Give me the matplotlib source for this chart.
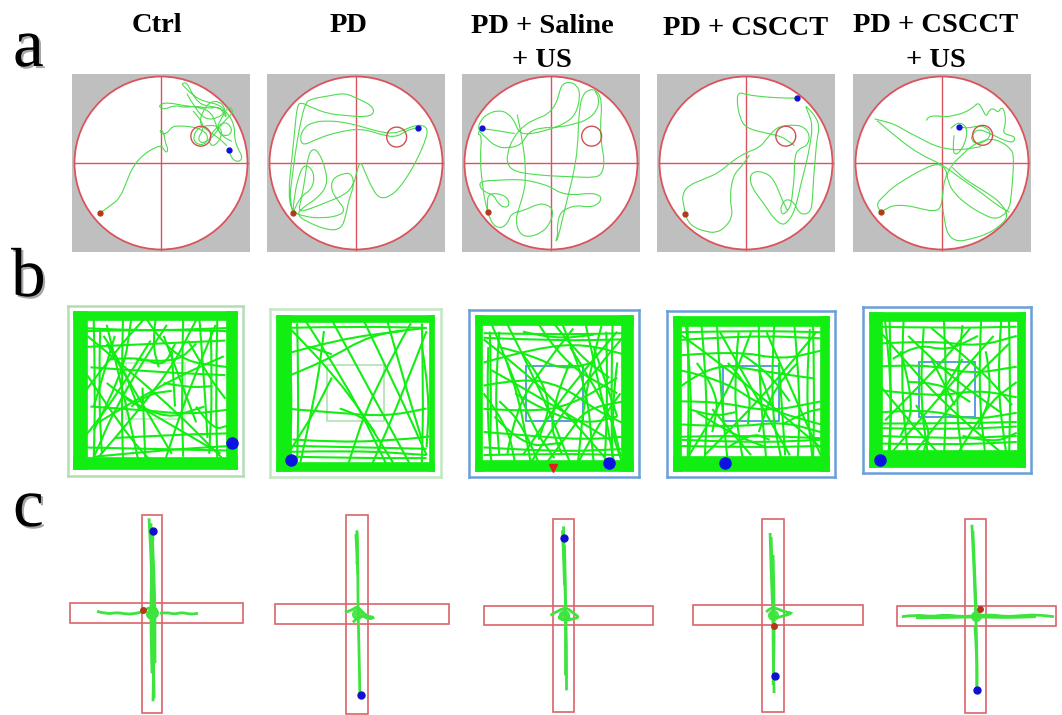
import numpy as np
import matplotlib
matplotlib.use("Agg")
import matplotlib.pyplot as plt
from matplotlib.path import Path
from matplotlib.patches import PathPatch, Circle, Rectangle
import matplotlib.patheffects as pe

W, H = 1062, 715

# ---------------- data ----------------
titles = ["Ctrl", "PD", "PD + Saline\n+ US", "PD + CSCCT", "PD + CSCCT\n+ US"]
panel_letters = ["a", "b", "c"]

# Row a: water maze swim paths, % of pool radius (x right, y up)
mwm_paths = [
    [[(-71,-58),(-59,-50),(-47,-40),(-40,-22),(-32,-3),(-20,10),(-7,18),(1,20),(4,14),(7,12),(8,17),(5,23),
      (3,37),(-2,38),(1,33),(8,35),(12,42),(22,43),(35,42),(47,39),(55,31),(51,21),(40,22),(37,31),(43,41),
      (57,44),(67,42),(71,35),(66,23),(58,19),(55,28),(62,39),(74,49),(83,39),(78,31),(68,33),(62,49),(58,58),
      (47,64),(28,66),(8,70),(-1,68),(-2,64),(5,62),(16,67),(28,64),(40,66),(55,63),(66,65),(72,59),(76,51),
      (74,62),(65,68),(55,70),(43,74),(33,82),(26,89),(24,92),(30,93),(35,82),(43,70),(52,66),(62,65),(70,62),
      (78,57),(85,43),(85,28),(89,16),(94,8),(92,2),(85,2),(80,9),(79,15)],
     [(37,60),(45,52),(50,40),(42,28),(48,22),(60,30),(70,45),(80,55),(84,60),(78,66),(70,52),(64,40),(72,30),(82,25)],
     [(30,80),(40,62),(52,50),(66,52),(75,60),(70,70),(58,72),(48,60),(44,45),(56,36),(68,28),(76,20)]],
    [[(-73,-58),(-77,-41),(-74,-18),(-70,13),(-65,43),(-59,68),(-53,74),(-29,78),(-13,81),(3,74),(19,66),(21,57),
      (11,53),(-13,55),(-33,57),(-53,65),(-63,70),(-68,67),(-71,36),(-75,-3),(-78,-33),(-75,-55),(-61,-62),
      (-37,-64),(-17,-60),(-13,-53),(-23,-41),(-29,-30),(-27,-18),(-15,-12),(-5,-12),(-2,-26),(-8,-41),(-12,-62),
      (-17,-76),(-31,-78),(-53,-70),(-69,-60),(-61,-51),(-45,-41),(-33,-26),(-35,-7),(-43,13),(-51,17),(-56,5),
      (-59,-18),(-63,-41),(-67,-57),(-53,-53),(-33,-45),(-13,-37),(-3,-26),(1,-10),(5,3),(11,-12),(19,-30),
      (27,-41),(39,-39),(51,-28),(63,-10),(73,9),(81,28),(83,39),(77,44),(67,43),(55,38),(43,34),(27,36),(7,42),
      (-13,47),(-33,49),(-51,47),(-61,40),(-65,28),(-61,20),(-45,28),(-21,36),(7,40),(31,32),(47,30),(59,38),(72,41)],
     [(-73,-58),(-66,-40),(-50,-30),(-48,-10),(-60,0),(-68,-20),(-72,-45),(-73,-58)]],
    [[(-73,-57),(-74,-45),(-72,-36),(-61,-35),(-50,-40),(-48,-49),(-54,-52),(-62,-46),(-66,-37),(-76,-34),
      (-83,-27),(-81,-21),(-65,-20),(-42,-19),(-27,-20),(-11,-24),(0,-28),(11,-35),(27,-37),(42,-35),(54,-36),
      (59,-41),(53,-49),(42,-51),(31,-49),(19,-52),(10,-58),(7,-74),(8,-83),(5,-92),(8,-87),(12,-70),(19,-41),
      (26,-13),(31,18),(32,56),(36,79),(46,86),(55,82),(59,68),(57,45),(58,22),(62,3),(59,-13),(50,-17),(27,-16),
      (0,-15),(-23,-13),(-41,-10),(-50,-3),(-51,10),(-44,29),(-31,44),(-15,52),(-4,56),(6,68),(10,83),(13,91),
      (21,94),(30,90),(34,79),(29,56),(15,45),(-4,38),(-26,33),(-37,35),(-42,48),(-50,58),(-61,61),(-73,57),
      (-81,50),(-85,39),(-76,30),(-64,19),(-50,17),(-34,21),(-26,36),(-11,41),(8,41),(27,45),(42,50),(53,60),
      (56,74),(51,83)],
     [(-39,56),(-31,18),(-29,-20),(-32,-36),(-37,-52),(-41,-66),(-37,-81),(-27,-86),(-11,-81),(-1,-70),(3,-55),
      (-4,-48),(-15,-47),(-31,-55),(-46,-58),(-50,-70),(-59,-76),(-69,-70),(-76,-47),(-80,-20),(-82,6),(-80,32),
      (-85,33),(-82,38),(-80,40),(-60,37),(-42,34)]],
    [[(-70,-59),(-72,-49),(-74,-37),(-67,-26),(-47,-18),(-31,-11),(-15,3),(0,12),(16,18),(24,28),(33,39),(42,43),
      (56,44),(67,42),(74,32),(71,20),(60,16),(56,6),(56,-14),(54,-33),(52,-49),(47,-57),(41,-60),(40,-49),
      (47,-41),(56,-46),(60,-56),(67,-60),(75,-56),(77,-41),(78,-18),(80,5),(82,28),(85,41),(81,53),(73,62),
      (68,67),(73,56),(77,43),(74,20),(69,-3),(63,-26),(59,-45),(54,-60),(48,-68),(42,-72),(32,-64),(24,-52),
      (16,-41),(8,-30),(4,-18),(8,-10),(20,-10),(32,-18),(41,-41),(48,-55)],
     [(4,9),(-4,-3),(-15,-14),(-19,-41),(-15,-60),(-23,-74),(-35,-81),(-47,-79),(-59,-75),(-67,-68),(-70,-59)],
     [(56,20),(46,28),(36,32),(16,36),(0,41),(-7,51),(-11,74),(-8,82),(0,79),(24,76),(48,75),(59,75)]],
    [[(-71,-57),(-63,-52),(-56,-49),(-40,-49),(-24,-53),(-9,-56),(-1,-52),(1,-34),(3,-18),(12,-1),(22,8),(33,19),
      (45,25),(57,28),(68,25),(80,16),(83,8),(82,-15),(80,-38),(78,-52),(71,-61),(60,-65),(45,-58),(30,-49),
      (14,-35),(7,-22),(5,-7),(-5,0),(-24,-8),(-43,-19),(-58,-29),(-67,-38),(-76,-47),(-71,-57)],
     [(-78,51),(-70,49),(-55,45),(-40,36),(-24,28),(-9,20),(7,16),(22,15),(45,19)],
     [(-75,49),(-51,28),(-24,9),(-1,-1),(22,-18),(45,-34),(64,-49),(78,-57)],
     [(1,-53),(3,-68),(7,-84),(18,-91),(33,-88),(53,-82),(68,-72),(77,-61),(68,-46),(53,-35),(33,-23),(22,-15),
      (12,-5)],
     [(-18,49),(-17,53),(-7,55),(3,53),(14,55),(26,58),(37,65),(42,70),(47,62),(51,53),(55,62),(60,63),(65,58),
      (68,64),(72,62),(74,46),(70,35),(78,32),(85,30),(82,23),(70,27),(60,32),(53,35),(44,39),(37,36),(33,28),
      (40,21),(52,26),(57,35),(50,42),(41,43),(30,40),(20,42)],
     [(14,32),(12,16),(16,8),(26,20),(30,40),(20,48),(10,40)]],
]
mwm_start = [(-71,-58), (-73,-58), (-73,-57), (-70,-59), (-71,-57)]
mwm_end = [(79,15), (72,41), (-80,40), (59,75), (20,42)]
mwm_target = [(46,31), (47,30), (47,31), (46,31), (47,32)]

# Row b: open-field tracks, fraction of arena (x right, y down)
of_strokes = [
    [[(0.30,0.03),(0.29,0.50),(0.30,0.95)],[(0.42,0.48),(0.44,1.0)],[(0.08,0.15),(0.55,0.55),(0.93,0.95)],
     [(0.15,0.92),(0.55,0.45),(0.75,0.05)],[(0.07,0.50),(0.25,0.25),(0.45,0.02)],[(0.08,0.22),(0.50,0.20),(0.93,0.18)],
     [(0.10,0.35),(0.50,0.38),(0.93,0.40)],[(0.55,0.45),(0.70,0.48),(0.85,0.47)],[(0.67,0.05),(0.66,0.50),(0.67,0.92)],
     [(0.77,0.04),(0.80,0.45),(0.82,0.80)],[(0.47,0.18),(0.25,0.55),(0.02,0.85)],[(0.25,0.80),(0.60,0.78),(0.97,0.77)],
     [(0.15,0.70),(0.55,0.45),(0.92,0.28)],[(0.32,0.55),(0.65,0.75),(0.90,0.90)],[(0.12,0.92),(0.50,0.88),(0.97,0.85)],
     [(0.87,0.08),(0.70,0.50),(0.55,0.97)],[(0.20,0.08),(0.30,0.50),(0.40,0.97)],[(0.57,0.08),(0.30,0.50),(0.10,0.97)],
     [(0.70,0.18),(0.82,0.40),(0.93,0.55)],[(0.08,0.40),(0.30,0.75),(0.50,0.98)],
     [(0.10,0.60),(0.40,0.62),(0.70,0.65),(0.95,0.62)],[(0.45,0.05),(0.60,0.30),(0.95,0.35)],
     [(0.05,0.10),(0.40,0.12),(0.95,0.10)],[(0.12,0.75),(0.30,0.40),(0.35,0.05)],
     [(0.12,0.05),(0.13,0.50),(0.12,0.95)],[(0.16,0.10),(0.15,0.50),(0.17,0.90)],[(0.05,0.12),(0.50,0.11),(0.95,0.12)],
     [(0.05,0.86),(0.50,0.87),(0.95,0.88)],[(0.88,0.05),(0.87,0.50),(0.88,0.95)],[(0.84,0.10),(0.85,0.50),(0.83,0.90)],
     [(0.20,0.20),(0.60,0.90)],[(0.55,0.15),(0.75,0.70)],[(0.25,0.15),(0.12,0.60)],
     [(0.38,0.30),(0.62,0.33),(0.75,0.20)],[(0.60,0.25),(0.62,0.60)],[(0.20,0.45),(0.50,0.70),(0.80,0.60)],
     [(0.22,0.30),(0.40,0.28),(0.55,0.35),(0.62,0.20)],[(0.35,0.60),(0.45,0.52),(0.60,0.50)],
     [(0.18,0.15),(0.28,0.30),(0.40,0.62)],[(0.75,0.60),(0.85,0.75),(0.95,0.72)],[(0.50,0.05),(0.48,0.20),(0.52,0.35)]],
    [[(0.05,0.05),(0.40,0.40),(0.75,0.97)],[(0.18,0.03),(0.45,0.45),(0.70,0.97)],[(0.35,0.03),(0.60,0.50),(0.85,0.97)],
     [(0.55,0.03),(0.75,0.45),(0.95,0.90)],[(0.70,0.03),(0.80,0.40),(0.92,0.80)],[(0.85,0.05),(0.60,0.50),(0.45,0.97)],
     [(0.05,0.60),(0.40,0.63),(0.70,0.65),(0.95,0.60)],[(0.05,0.40),(0.30,0.30),(0.60,0.12),(0.95,0.08)],
     [(0.05,0.25),(0.40,0.15),(0.80,0.10)],[(0.10,0.80),(0.40,0.82),(0.80,0.80),(0.97,0.78)],
     [(0.05,0.88),(0.50,0.87),(0.95,0.90)],[(0.95,0.10),(0.80,0.50),(0.60,0.97)],[(0.02,0.97),(0.20,0.70),(0.35,0.40)],
     [(0.92,0.20),(0.97,0.50),(0.95,0.85)],[(0.08,0.10),(0.10,0.50),(0.08,0.95)],[(0.15,0.95),(0.25,0.50),(0.30,0.10)],
     [(0.13,0.05),(0.14,0.50),(0.13,0.95)],[(0.05,0.08),(0.50,0.07),(0.95,0.08)],[(0.05,0.91),(0.50,0.92),(0.95,0.92)],
     [(0.05,0.84),(0.50,0.85),(0.95,0.86)],[(0.92,0.05),(0.93,0.50),(0.92,0.95)],
     [(0.40,0.60),(0.55,0.65),(0.62,0.75)],[(0.20,0.20),(0.35,0.25)]],
    [[(0.05,0.15),(0.30,0.35),(0.55,0.60),(0.85,0.95)],[(0.10,0.05),(0.25,0.40),(0.35,0.95)],
     [(0.20,0.05),(0.40,0.45),(0.60,0.95)],[(0.40,0.05),(0.55,0.30),(0.90,0.50)],[(0.55,0.05),(0.70,0.40),(0.75,0.95)],
     [(0.70,0.06),(0.80,0.50),(0.88,0.95)],[(0.80,0.06),(0.70,0.45),(0.65,0.95)],[(0.90,0.10),(0.60,0.45),(0.30,0.90)],
     [(0.05,0.45),(0.30,0.40),(0.55,0.45),(0.75,0.60),(0.95,0.70)],[(0.05,0.60),(0.35,0.62),(0.60,0.58),(0.90,0.40)],
     [(0.05,0.75),(0.40,0.78),(0.70,0.80),(0.95,0.78)],[(0.05,0.85),(0.50,0.88),(0.95,0.86)],
     [(0.05,0.30),(0.40,0.20),(0.70,0.18),(0.95,0.25)],[(0.15,0.10),(0.12,0.50),(0.15,0.90)],
     [(0.08,0.20),(0.07,0.60),(0.10,0.95)],[(0.30,0.10),(0.50,0.15),(0.75,0.12)],
     [(0.35,0.95),(0.50,0.70),(0.80,0.30),(0.95,0.12)],[(0.60,0.20),(0.85,0.60),(0.92,0.90)],
     [(0.20,0.90),(0.25,0.60),(0.45,0.30),(0.62,0.08)],[(0.90,0.30),(0.85,0.70),(0.93,0.95)],
     [(0.45,0.95),(0.60,0.75),(0.70,0.60),(0.95,0.55)],[(0.10,0.35),(0.45,0.55),(0.85,0.80)],
     [(0.05,0.50),(0.20,0.70),(0.25,0.95)],
     [(0.05,0.11),(0.50,0.12),(0.95,0.11)],[(0.05,0.14),(0.50,0.16),(0.95,0.15)],[(0.87,0.05),(0.86,0.50),(0.87,0.95)],
     [(0.83,0.10),(0.84,0.50),(0.82,0.95)],[(0.05,0.90),(0.50,0.89),(0.95,0.90)],[(0.09,0.10),(0.10,0.50),(0.09,0.90)],
     [(0.30,0.25),(0.50,0.50),(0.40,0.80)],[(0.60,0.30),(0.45,0.65),(0.55,0.90)],[(0.75,0.20),(0.90,0.65)],
     [(0.20,0.30),(0.35,0.70),(0.50,0.92)],
     [(0.15,0.20),(0.35,0.25),(0.55,0.35),(0.75,0.30)],[(0.25,0.50),(0.45,0.62),(0.70,0.70),(0.90,0.65)],
     [(0.40,0.95),(0.30,0.70),(0.15,0.55)],[(0.65,0.95),(0.78,0.70),(0.92,0.50)],[(0.50,0.05),(0.65,0.25),(0.85,0.40)],
     [(0.12,0.65),(0.30,0.85),(0.55,0.82)]],
    [[(0.05,0.12),(0.30,0.30),(0.60,0.55),(0.95,0.85)],[(0.08,0.05),(0.12,0.50),(0.10,0.95)],
     [(0.18,0.05),(0.22,0.50),(0.20,0.95)],[(0.28,0.05),(0.30,0.45),(0.35,0.95)],[(0.42,0.10),(0.38,0.50),(0.45,0.95)],
     [(0.55,0.05),(0.55,0.40),(0.60,0.95)],[(0.65,0.05),(0.62,0.55),(0.70,0.95)],[(0.78,0.06),(0.82,0.50),(0.80,0.95)],
     [(0.88,0.08),(0.85,0.50),(0.90,0.95)],[(0.05,0.25),(0.40,0.22),(0.70,0.28),(0.95,0.22)],
     [(0.05,0.35),(0.30,0.40),(0.60,0.60),(0.95,0.70)],[(0.05,0.55),(0.30,0.55),(0.60,0.62),(0.95,0.55)],
     [(0.05,0.70),(0.40,0.72),(0.70,0.68),(0.95,0.75)],[(0.05,0.80),(0.50,0.82),(0.95,0.80)],
     [(0.05,0.15),(0.50,0.12),(0.95,0.14)],[(0.20,0.90),(0.50,0.60),(0.80,0.25),(0.92,0.10)],
     [(0.10,0.90),(0.35,0.50),(0.50,0.10)],[(0.60,0.10),(0.75,0.45),(0.95,0.90)],[(0.30,0.10),(0.55,0.55),(0.75,0.90)],
     [(0.05,0.45),(0.25,0.30),(0.55,0.35),(0.90,0.40)],[(0.15,0.62),(0.35,0.75),(0.60,0.85)],
     [(0.68,0.30),(0.70,0.60),(0.72,0.90)],
     [(0.05,0.10),(0.50,0.09),(0.95,0.10)],[(0.05,0.84),(0.50,0.85),(0.95,0.84)],[(0.05,0.78),(0.50,0.77),(0.95,0.79)],
     [(0.09,0.05),(0.10,0.50),(0.09,0.95)],[(0.90,0.05),(0.91,0.50),(0.90,0.95)],[(0.35,0.30),(0.50,0.45),(0.48,0.70)],
     [(0.55,0.35),(0.65,0.62)],[(0.25,0.60),(0.50,0.90)],
     [(0.15,0.30),(0.30,0.50),(0.25,0.75)],[(0.45,0.25),(0.60,0.35),(0.75,0.55)],[(0.80,0.30),(0.65,0.45),(0.55,0.75)],
     [(0.10,0.60),(0.25,0.65),(0.40,0.62)],[(0.70,0.70),(0.85,0.62),(0.95,0.60)],[(0.35,0.85),(0.50,0.75),(0.62,0.80)]],
    [[(0.05,0.10),(0.30,0.40),(0.60,0.70),(0.90,0.95)],[(0.10,0.05),(0.15,0.50),(0.12,0.95)],
     [(0.22,0.05),(0.20,0.45),(0.25,0.95)],[(0.35,0.10),(0.32,0.50),(0.38,0.95)],[(0.48,0.05),(0.50,0.45),(0.48,0.95)],
     [(0.60,0.08),(0.55,0.55),(0.60,0.95)],[(0.72,0.05),(0.70,0.50),(0.75,0.95)],[(0.85,0.05),(0.82,0.45),(0.88,0.90)],
     [(0.05,0.20),(0.40,0.18),(0.70,0.22),(0.95,0.15)],[(0.05,0.35),(0.35,0.33),(0.65,0.40),(0.95,0.35)],
     [(0.05,0.50),(0.40,0.55),(0.70,0.50),(0.95,0.55)],[(0.05,0.65),(0.35,0.62),(0.65,0.70),(0.95,0.65)],
     [(0.05,0.75),(0.50,0.76),(0.95,0.74)],[(0.05,0.80),(0.50,0.82),(0.95,0.80)],[(0.05,0.85),(0.50,0.86),(0.95,0.84)],
     [(0.15,0.90),(0.45,0.55),(0.80,0.15)],[(0.10,0.70),(0.40,0.40),(0.65,0.10)],[(0.30,0.90),(0.60,0.50),(0.90,0.20)],
     [(0.55,0.95),(0.75,0.60),(0.95,0.45)],[(0.25,0.15),(0.50,0.40),(0.85,0.65)],[(0.40,0.10),(0.70,0.35),(0.92,0.60)],
     [(0.05,0.45),(0.25,0.70),(0.45,0.92)],
     [(0.13,0.05),(0.14,0.50),(0.13,0.95)],[(0.05,0.09),(0.50,0.10),(0.95,0.09)],[(0.90,0.05),(0.91,0.50),(0.90,0.95)],
     [(0.05,0.72),(0.50,0.72),(0.95,0.71)],[(0.40,0.30),(0.55,0.60)],[(0.60,0.30),(0.45,0.55)],
     [(0.20,0.25),(0.30,0.60),(0.20,0.80)],
     [(0.15,0.30),(0.30,0.20),(0.50,0.25),(0.70,0.15)],[(0.25,0.45),(0.45,0.45),(0.65,0.58)],
     [(0.75,0.25),(0.80,0.50),(0.70,0.75)],[(0.30,0.60),(0.40,0.75),(0.35,0.90)],[(0.60,0.80),(0.80,0.85),(0.95,0.78)]],
]
# wall-hugging band thickness (left, top, right, bottom), fraction of arena
of_wall = [(0.08,0.05,0.06,0.07), (0.09,0.04,0.03,0.05), (0.04,0.06,0.07,0.06),
           (0.05,0.06,0.05,0.09), (0.08,0.05,0.04,0.10)]
of_end = [(0.97,0.83), (0.09,0.93), (0.85,0.95), (0.33,0.95), (0.07,0.96)]

# Row c: elevated plus-maze tracks, px offsets from maze centre (x right, y down)
epm_strokes = [
    [[(-3,-95),(-1,-60),(0,-20),(1,0),(2,40),(1,88)], [(-1,-90),(0,-50),(1,-10),(0,30),(2,70),(2,85)],
     [(0,-85),(2,-40),(3,0),(3,50)], [(1,-80),(-1,-30),(-1,20),(0,60)],
     [(-55,-2),(-45,1),(-35,-1),(-25,1),(-15,0),(-8,-2)], [(8,0),(15,-1),(22,1),(30,-1),(38,1),(46,0)],
     [(-6,-4),(0,-7),(6,-3),(5,4),(-2,6),(-6,0),(0,-2),(4,2)]],
    [[(0,-84),(1,-50),(1,-10),(2,30),(3,81)], [(-1,-80),(0,-60),(1,-40)], [(0,-82),(1,-65),(0,-50)],
     [(-12,-2),(-5,-4),(0,-8),(5,-3),(10,2),(18,3),(12,5),(5,1),(0,4),(-4,8)]],
    [[(0,-89),(1,-50),(2,-10),(3,30),(3,75)], [(-1,-85),(0,-60),(1,-30)], [(1,-70),(2,-30),(2,20),(2,60)],
     [(-13,0),(-5,-5),(3,-8),(10,-2),(16,2),(8,4),(0,5),(-6,2),(2,-3),(6,3)]],
    [[(-3,-82),(-2,-40),(0,0),(0,40),(1,78)], [(-2,-78),(-1,-50),(0,-20)], [(0,-60),(1,-20),(1,30),(0,70)],
     [(-7,-3),(-2,-8),(5,-6),(12,-3),(20,-2),(10,1),(3,3),(-4,1),(2,-4)]],
    [[(-4,-91),(-2,-50),(-1,-20),(0,0),(1,40),(1,74)], [(-3,-85),(-1,-40),(0,-10)], [(-1,10),(1,40),(1,70)],
     [(-74,1),(-60,-1),(-45,1),(-30,-1),(-15,1),(0,0),(15,-1),(30,1),(45,0),(60,-1),(78,1)],
     [(-60,2),(-30,2),(0,1),(30,2),(60,1)]],
]
epm_start = [(-9,-3), None, None, (1,11), (4,-7)]
epm_end = [(1,-82), (4,81), (0,-77), (2,61), (1,74)]

# ---------------- layout (pixels) ----------------
fig = plt.figure(figsize=(W/100, H/100), dpi=100)
fig.patch.set_facecolor("white")

def px_axes(x0, y0, x1, y1):
    ax = fig.add_axes([x0/W, 1 - y1/H, (x1-x0)/W, (y1-y0)/H])
    ax.set_xticks([]); ax.set_yticks([])
    return ax

def smooth(pts):
    p = np.asarray(pts, float)
    if len(p) < 3:
        return Path(p)
    verts = [p[0]]; codes = [Path.MOVETO]
    for i in range(1, len(p)-1):
        verts += [p[i], (p[i]+p[i+1])/2]
        codes += [Path.CURVE3, Path.CURVE3]
    verts.append(p[-1]); codes.append(Path.LINETO)
    return Path(verts, codes)

serif = ["Liberation Serif", "DejaVu Serif"]

# titles
title_pos = [(157, [32]), (349, [32]), (542, [33, 67]), (746, [35]), (936, [32, 67])]
for t, (cx, bases) in zip(titles, title_pos):
    for line, b in zip(t.split("\n"), bases):
        fig.text(cx/W, 1 - b/H, line, ha="center", va="baseline", fontsize=20.5,
                 fontweight="bold", family=serif)

# panel letters
for lab, (x, b) in zip(panel_letters, [(13, 66), (11, 296), (13, 526)]):
    fig.text(x/W, 1 - b/H, lab, ha="left", va="baseline", fontsize=50, family=serif,
             path_effects=[pe.SimplePatchShadow(offset=(1.5, -1.5), alpha=0.35), pe.Normal()])

# ---- row a ----
RED = "#d9545c"
a_x0 = [72, 267, 462, 657, 853]
lim = 89/86.5
for i in range(5):
    ax = px_axes(a_x0[i], 74, a_x0[i] + 178, 252)
    ax.set_facecolor("#bfbfbf")
    for s in ax.spines.values():
        s.set_visible(False)
    ax.set_xlim(-lim, lim); ax.set_ylim(-lim, lim)
    ax.add_patch(Circle((0, 0), 1.0, facecolor="white", edgecolor=RED, lw=1.3, zorder=1))
    ax.plot([-1, 1], [0, 0], color=RED, lw=1.0, zorder=2)
    ax.plot([0, 0], [-1, 1], color=RED, lw=1.0, zorder=2)
    tx, ty = mwm_target[i]
    ax.add_patch(Circle((tx/100, ty/100), 0.115, fill=False, edgecolor="#d05050", lw=1.0, zorder=4))
    for seg in mwm_paths[i]:
        ax.add_patch(PathPatch(smooth(np.array(seg)/100.0), fill=False, edgecolor="#4fdc4f",
                               lw=0.8, zorder=3))
    sx, sy = mwm_start[i]
    ax.plot(sx/100, sy/100, "o", ms=3.5, color="#b23a1a", zorder=5)
    ex, ey = mwm_end[i]
    ax.plot(ex/100, ey/100, "o", ms=3.5, color="#1010d0", zorder=5)

# ---- row b ----
GREEN = "#12ee12"
b_box = [(67.7, 306, 243.3, 475.7), (270.3, 309.3, 440.8, 476.7), (469.4, 310, 639.3, 476.7),
         (667.4, 310.7, 834.7, 476.7), (863.3, 306.7, 1030.7, 472.7)]
b_border = ["#b2dfb2", "#c2e6c2", "#6a9fd8", "#6a9fd8", "#6a9fd8"]
b_inner = ["#cdeccd", "#b5e4b5", "#4f92dc", "#4f92dc", "#4f92dc"]
for i in range(5):
    ax = px_axes(*b_box[i])
    for s in ax.spines.values():
        s.set_color(b_border[i]); s.set_linewidth(1.8)
    ax.set_xlim(-0.04, 1.04); ax.set_ylim(1.04, -0.04)
    l, t, r, b = of_wall[i]
    for (x, y, w, h) in [(0, 0, l, 1), (0, 0, 1, t), (1-r, 0, r, 1), (0, 1-b, 1, b)]:
        ax.add_patch(Rectangle((x, y), w, h, facecolor=GREEN, edgecolor=GREEN, lw=1.2, zorder=2))
    ax.add_patch(Rectangle((0.333, 0.333), 0.334, 0.334, transform=ax.transAxes, fill=False,
                           edgecolor=b_inner[i], lw=1.3, zorder=1))
    for st in of_strokes[i]:
        ax.add_patch(PathPatch(smooth(st), fill=False, edgecolor=GREEN, lw=1.5, zorder=3))
    ex, ey = of_end[i]
    ax.plot(ex, ey, "o", ms=8, color="#0a14e0", zorder=5)
    if i == 2:
        ax.plot(0.49, 0.985, "v", ms=6, color="#e02020", zorder=5)

# ---- row c ----
c_h = [(70, 603.3, 242.7, 623.3), (274.8, 604.3, 448.7, 624.3), (483.8, 605.7, 652.8, 625),
       (692.9, 605, 862.5, 625), (896.5, 605.7, 1056, 625.7)]
c_v = [(141.7, 514.7, 162.3, 712.7), (346, 515, 367.8, 714), (553, 519.3, 574, 712.3),
       (762.4, 519.3, 783.8, 712.3), (965.4, 519.3, 986.4, 713.3)]
CRED = "#d9646a"
CGREEN = "#3ee43e"
for i in range(5):
    hx0, hy0, hx1, hy1 = c_h[i]
    vx0, vy0, vx1, vy1 = c_v[i]
    ax = px_axes(hx0 - 2, vy0 - 2, hx1 + 2, vy1 + 2)
    ax.set_xlim(hx0 - 2, hx1 + 2); ax.set_ylim(vy1 + 2, vy0 - 2)
    ax.axis("off")
    ax.add_patch(Rectangle((hx0, hy0), hx1-hx0, hy1-hy0, fill=False, edgecolor=CRED, lw=1.2))
    ax.add_patch(Rectangle((vx0, vy0), vx1-vx0, vy1-vy0, fill=False, edgecolor=CRED, lw=1.2))
    cx, cy = (vx0+vx1)/2, (hy0+hy1)/2
    for st in epm_strokes[i]:
        p = np.array(st, float) + [cx, cy]
        ax.add_patch(PathPatch(smooth(p), fill=False, edgecolor=CGREEN, lw=2.0, zorder=3))
    ax.plot(cx, cy, "o", ms=7, color=CGREEN, alpha=0.9, zorder=3)
    if epm_start[i] is not None:
        ax.plot(cx + epm_start[i][0], cy + epm_start[i][1], "o", ms=4, color="#b23a1a", zorder=5)
    ax.plot(cx + epm_end[i][0], cy + epm_end[i][1], "o", ms=5, color="#1010d0", zorder=5)

fig.savefig("out.png", dpi=100, facecolor="white")
